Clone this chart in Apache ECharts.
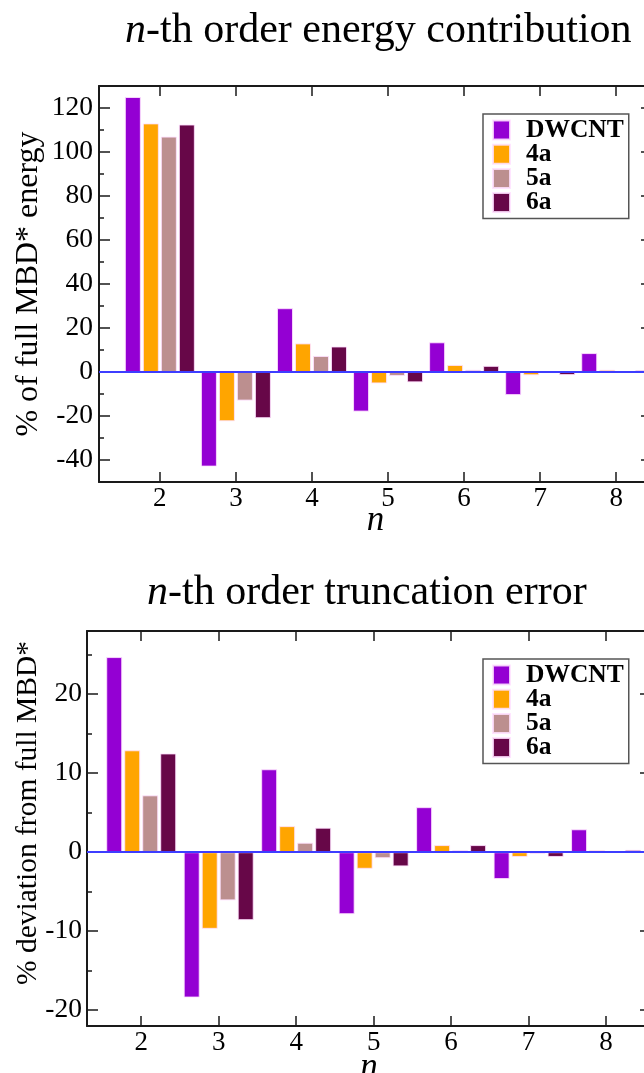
<!DOCTYPE html>
<html><head><meta charset="utf-8">
<script src="https://cdn.jsdelivr.net/npm/echarts@6/dist/echarts.min.js"></script>
<style>html,body{margin:0;padding:0;background:#fff;} #c{width:644px;height:1073px;}</style>
</head><body><div id="c"></div>
<script>
// ---- data ----
const orders = [2, 3, 4, 5, 6, 7, 8];
const seriesNames = ['DWCNT', '4a', '5a', '6a'];
const energyDWCNT = [125, -43, 29, -18, 13.5, -10.5, 8.6];
const energy4a = [113, -22.4, 13, -5.2, 3.2, -1.5, 1.0];
const energy5a = [107, -13, 7.3, -1.8, 1.0, -0.5, 0.2];
const energy6a = [112.5, -21, 11.6, -4.7, 2.8, -1.4, 0.8];
const truncDWCNT = [24.7, -18.4, 10.5, -7.85, 5.7, -3.4, 2.9];
const trunc4a = [12.9, -9.7, 3.3, -2.1, 0.9, -0.6, 0.25];
const trunc5a = [7.2, -6.1, 1.2, -0.76, 0.25, -0.2, 0.05];
const trunc6a = [12.5, -8.6, 3.1, -1.8, 0.9, -0.6, 0.3];
const xTicks = [2, 3, 4, 5, 6, 7, 8];
const energyTicks = [-40, -20, 0, 20, 40, 60, 80, 100, 120];
const energyMinor = [-30, -10, 10, 30, 50, 70, 90, 110];
const truncTicks = [-20, -10, 0, 10, 20];
const truncMinor = [-15, -5, 5, 15, 25];

const colors = ['#9400d3', '#ffa500', '#bc8f8f', '#670748'];
const FONT = 'Liberation Serif, Times New Roman, serif';
const AX = '#1a1a1a';

function pairs(vals) { return orders.map((n, i) => [n, vals[i]]); }

function xAxes(grid, min, max, nameGap) {
  const base = {
    type: 'value', gridIndex: grid, min: min, max: max,
    splitLine: { show: false },
    axisLine: { show: true, onZero: false, lineStyle: { color: AX, width: 2 } },
    axisTick: { show: true, inside: true, length: 10, customValues: xTicks, lineStyle: { color: AX, width: 1.5 } }
  };
  return [
    Object.assign({}, base, {
      position: 'bottom',
      axisLabel: { show: true, customValues: xTicks, margin: 3, fontSize: 27, fontFamily: FONT, color: '#000' },
      name: 'n', nameLocation: 'middle', nameGap: nameGap, nameMoveOverlap: false,
      nameTextStyle: { fontSize: 35, fontStyle: 'italic', fontFamily: FONT, color: '#000' }
    }),
    Object.assign({}, base, { position: 'top', axisLabel: { show: false } })
  ];
}

function yAxes(grid, min, max, majors, minors, margin) {
  const base = {
    type: 'value', gridIndex: grid, min: min, max: max,
    splitLine: { show: false }
  };
  const out = [];
  ['left', 'right'].forEach(pos => {
    out.push(Object.assign({}, base, {
      position: pos,
      axisLine: { show: true, onZero: false, lineStyle: { color: AX, width: 2 } },
      axisTick: { show: true, inside: true, length: 11, customValues: majors, lineStyle: { color: AX, width: 1.5 } },
      axisLabel: pos === 'left'
        ? { show: true, customValues: majors, margin: margin, fontSize: 27.5, fontFamily: FONT, color: '#000' }
        : { show: false }
    }));
    out.push(Object.assign({}, base, {
      position: pos,
      axisLine: { show: false },
      axisTick: { show: true, inside: true, length: 5, customValues: minors, lineStyle: { color: AX, width: 1.5 } },
      axisLabel: { show: false }
    }));
  });
  return out;
}

const energySets = [energyDWCNT, energy4a, energy5a, energy6a];
const truncSets = [truncDWCNT, trunc4a, trunc5a, trunc6a];

function barSeries(sets, xi, yi) {
  return sets.map((vals, k) => ({
    name: seriesNames[k], type: 'bar', xAxisIndex: xi, yAxisIndex: yi,
    data: pairs(vals), barWidth: 16, barGap: '12.5%',
    itemStyle: { color: colors[k], borderColor: 'rgba(255,225,255,0.85)', borderWidth: 1 },
    emphasis: { disabled: true },
    markLine: k === 0 ? {
      silent: true, symbol: 'none', label: { show: false },
      lineStyle: { color: '#3d3dff', width: 1.8, type: 'solid' },
      data: [{ yAxis: 0 }]
    } : undefined
  }));
}

function legendAt(top) {
  return {
    orient: 'vertical', left: 483, top: top,
    padding: [3, 5, 3, 9], itemWidth: 17, itemHeight: 19, itemGap: -1.8,
    borderColor: '#555', borderWidth: 1.5, backgroundColor: '#fff',
    icon: 'rect', selectedMode: false,
    textStyle: { fontFamily: FONT, fontWeight: 'bold', fontSize: 25.5, color: '#000', padding: [0, 0, 0, 11] },
    data: seriesNames
  };
}

const titleRich = {
  it: { fontFamily: FONT, fontSize: 42, fontStyle: 'italic', fontWeight: 'normal', color: '#000' },
  rm: { fontFamily: FONT, fontSize: 42, fontWeight: 'normal', color: '#000' }
};

const chart = echarts.init(document.getElementById('c'), null, { renderer: 'canvas' });
chart.setOption({
  animation: false,
  backgroundColor: '#fff',
  color: colors,
  title: [
    { text: '{it|n}{rm|-th order energy contribution}', left: 125, top: 10, padding: 0, textStyle: { fontWeight: 'normal', rich: titleRich } },
    { text: '{it|n}{rm|-th order truncation error}', left: 147, top: 572, padding: 0, textStyle: { fontWeight: 'normal', rich: titleRich } }
  ],
  grid: [
    { left: 99, top: 86, width: 553, height: 396, outerBoundsMode: 'none', containLabel: false },
    { left: 87, top: 631, width: 564, height: 395, outerBoundsMode: 'none', containLabel: false }
  ],
  legend: [legendAt(114), legendAt(659)],
  xAxis: [].concat(xAxes(0, 1.2, 8.47, 21), xAxes(1, 1.3, 8.58, 24)),
  yAxis: [].concat(yAxes(0, -50, 130, energyTicks, energyMinor, 6), yAxes(1, -22, 28, truncTicks, truncMinor, 5)),
  series: [].concat(barSeries(energySets, 0, 0), barSeries(truncSets, 2, 4)),
  graphic: [
    { type: 'text', x: 29, y: 284, rotation: Math.PI / 2,
      style: { text: '% of full MBD* energy', fontFamily: FONT, fontSize: 32, fill: '#000', align: 'center', verticalAlign: 'middle' } },
    { type: 'text', x: 28, y: 813, rotation: Math.PI / 2,
      style: { text: '% deviation from full MBD*', fontFamily: FONT, fontSize: 29.5, fill: '#000', align: 'center', verticalAlign: 'middle' } }
  ]
});
</script></body></html>
